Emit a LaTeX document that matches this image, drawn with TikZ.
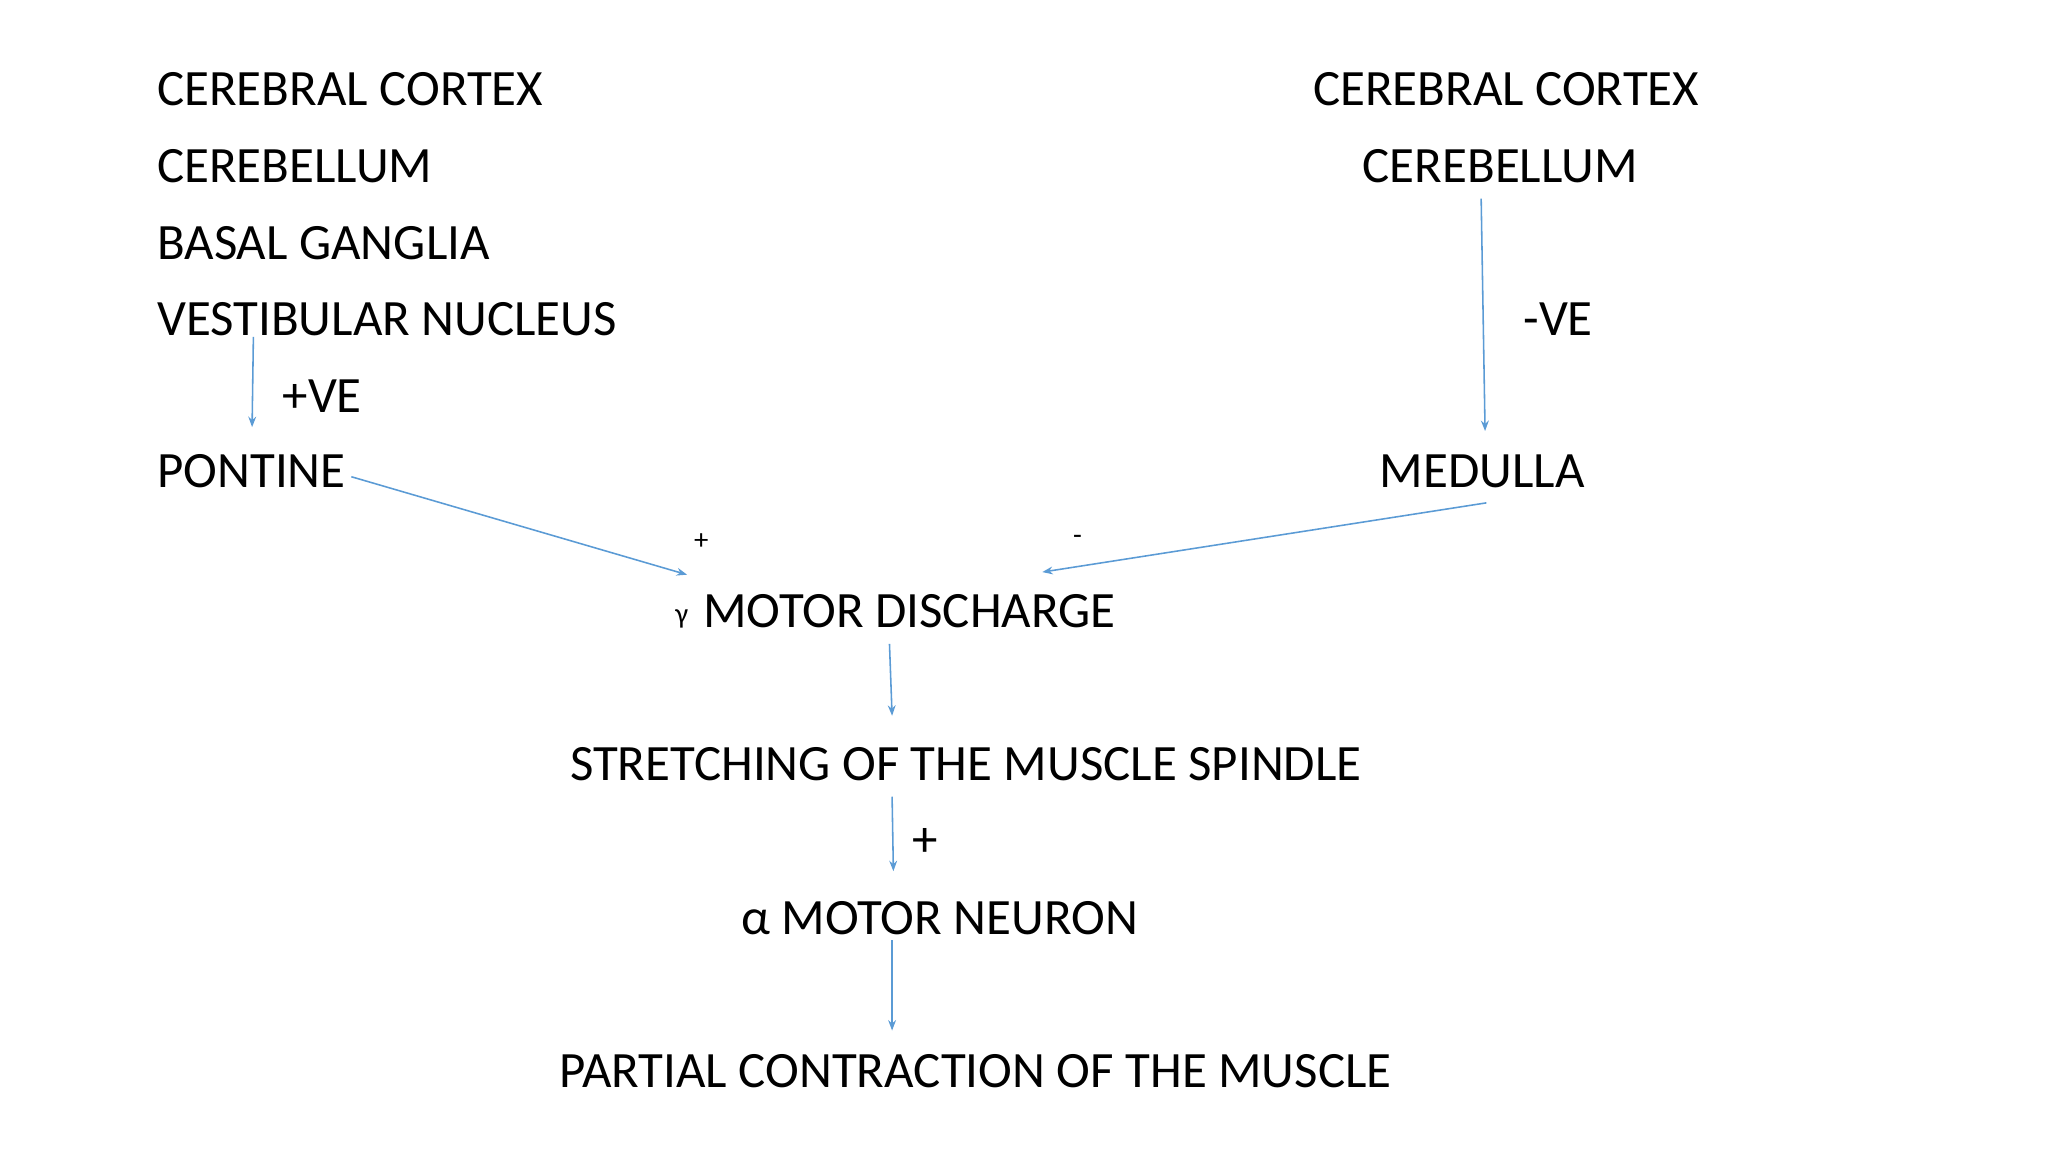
\documentclass[tikz,border=0pt]{standalone}
\usepackage{fontspec}
\setmainfont{Carlito}
\usetikzlibrary{arrows.meta}
\definecolor{ar}{HTML}{5B9BD5}
\begin{document}
\begin{tikzpicture}[x=0.5pt,y=-0.5pt,
  t/.style={anchor=west,inner sep=0pt,font=\fontsize{19.5}{22}\selectfont},
  s/.style={anchor=center,inner sep=0pt,font=\fontsize{11}{13}\selectfont},
  a/.style={draw=ar,line width=0.6pt,-{Stealth[length=4pt,width=3pt]}}]
\useasboundingbox (0,0) rectangle (1568,882);
\node[t] at (120,68) {CEREBRAL CORTEX};
\node[t] at (120,127) {CEREBELLUM};
\node[t] at (120,186) {BASAL GANGLIA};
\node[t] at (120,244) {VESTIBULAR NUCLEUS};
\node[t] at (216,303) {+VE};
\node[t] at (120,361) {PONTINE};
\node[t] at (1005,68) {CEREBRAL CORTEX};
\node[t] at (1043,127) {CEREBELLUM};
\node[t] at (1166,244) {-VE};
\node[t] at (1056,361) {MEDULLA};
\node[s] at (537,415) {+};
\node[s] at (825,413) {-};
\node[s] at (522,474) {γ};
\node[t] at (538,468) {MOTOR DISCHARGE};
\node[t] at (436,585) {STRETCHING OF THE MUSCLE SPINDLE};
\node[t] at (698,645) {+};
\node[t] at (567,703) {α MOTOR NEURON};
\node[t] at (428,820) {PARTIAL CONTRACTION OF THE MUSCLE};
\coordinate (v1) at (194,258); \coordinate (v2) at (193,327);
\coordinate (p1) at (269,365); \coordinate (p2) at (526,440);
\coordinate (m1) at (1138,385); \coordinate (m2) at (798,438);
\coordinate (c1) at (1134,152); \coordinate (c2) at (1137,330);
\coordinate (g1) at (681,493); \coordinate (g2) at (683,548);
\coordinate (s1) at (683,610); \coordinate (s2) at (684,667);
\coordinate (n1) at (683,720); \coordinate (n2) at (683,789);
\draw[a] (v1)--(v2);
\draw[a] (p1)--(p2);
\draw[a] (m1)--(m2);
\draw[a] (c1)--(c2);
\draw[a] (g1)--(g2);
\draw[a] (s1)--(s2);
\draw[a] (n1)--(n2);
\end{tikzpicture}
\end{document}
